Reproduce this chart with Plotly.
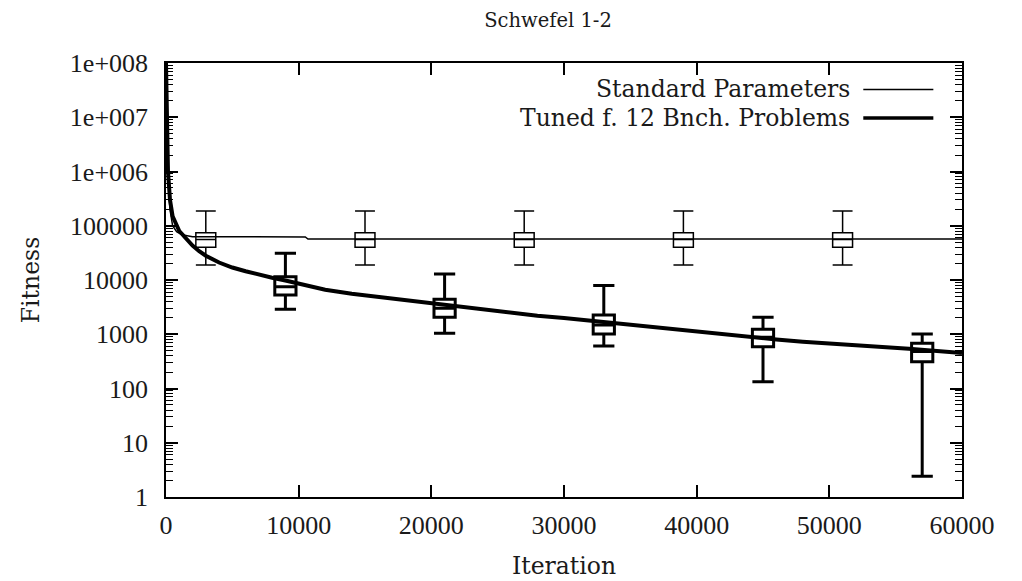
import plotly.graph_objects as go

# ---- data ----
std_iter = [0, 50, 100, 200, 300, 500, 800, 1200, 2000, 5000, 10500, 10700, 20000, 40000, 60000]
std_fit = [1e8, 2e7, 3e6, 5e5, 2e5, 1e5, 78000, 68000, 63000, 62500, 62000, 57000, 57000, 57000, 57000]

tun_iter = [0, 50, 150, 300, 500, 1000, 1500, 2000, 2500, 3000, 4000, 5000, 6000, 7000, 8000,
            9000, 10000, 11000, 12000, 14000, 16000, 18000, 20000, 22000, 24000, 26000, 28000,
            30000, 32000, 34000, 36000, 38000, 40000, 42000, 44000, 46000, 48000, 50000, 52000,
            54000, 56000, 58000, 60000]
tun_fit = [1e8, 1e7, 1e6, 3e5, 1.5e5, 8e4, 5.7e4, 4.3e4, 3.4e4, 2.8e4, 2.1e4, 1.7e4, 1.45e4,
           1.25e4, 1.1e4, 9800, 8600, 7400, 6600, 5600, 4900, 4200, 3600, 3150, 2800, 2500,
           2200, 2000, 1780, 1580, 1420, 1250, 1100, 980, 880, 800, 730, 670, 620, 580, 540,
           500, 450]

std_box_pos = [3000, 15000, 27000, 39000, 51000]
std_box_low = [19000, 19000, 19000, 19000, 19000]
std_box_q1 = [40000, 40000, 40000, 40000, 40000]
std_box_med = [56000, 56000, 56000, 56000, 56000]
std_box_q3 = [74000, 74000, 74000, 74000, 74000]
std_box_high = [187000, 187000, 187000, 187000, 187000]

tun_box_pos = [9000, 21000, 33000, 45000, 57000]
tun_box_low = [2900, 1040, 610, 133, 2.4]
tun_box_q1 = [5300, 2050, 1010, 590, 310]
tun_box_med = [7500, 3000, 1480, 880, 480]
tun_box_q3 = [11500, 4400, 2260, 1230, 680]
tun_box_high = [31000, 12900, 7900, 2050, 1010]

y_tickvals = [1, 10, 100, 1000, 10000, 100000, 1e6, 1e7, 1e8]
y_ticktext = ["1", "10", "100", "1000", "10000", "100000", "1e+006", "1e+007", "1e+008"]
x_tickvals = [0, 10000, 20000, 30000, 40000, 50000, 60000]
x_ticktext = ["0", "10000", "20000", "30000", "40000", "50000", "60000"]

legend_labels = ["Standard Parameters", "Tuned f. 12 Bnch. Problems"]

NUMFONT = "'Liberation Serif', 'Times New Roman', serif"
TXTFONT = "'DejaVu Serif', serif"
TXT = "#1a1a1a"

fig = go.Figure()
fig.add_trace(go.Scatter(x=std_iter, y=std_fit, mode="lines",
                         line=dict(color="black", width=1.5), name=legend_labels[0]))
fig.add_trace(go.Box(x=std_box_pos, q1=std_box_q1, median=std_box_med, q3=std_box_q3,
                     lowerfence=std_box_low, upperfence=std_box_high, width=1500,
                     whiskerwidth=1, fillcolor="rgba(0,0,0,0)",
                     line=dict(color="black", width=1.5), boxpoints=False,
                     name=legend_labels[0]))
fig.add_trace(go.Scatter(x=tun_iter, y=tun_fit, mode="lines",
                         line=dict(color="black", width=4), name=legend_labels[1]))
fig.add_trace(go.Box(x=tun_box_pos, q1=tun_box_q1, median=tun_box_med, q3=tun_box_q3,
                     lowerfence=tun_box_low, upperfence=tun_box_high, width=1600,
                     whiskerwidth=1, fillcolor="rgba(0,0,0,0)",
                     line=dict(color="black", width=3), boxpoints=False,
                     name=legend_labels[1]))

# gnuplot-style legend: text right-aligned, line sample to the right
legend_y = [0.939, 0.873]
legend_w = [1.5, 3.5]
for lab, yy, w in zip(legend_labels, legend_y, legend_w):
    fig.add_annotation(x=0.862, y=yy, xref="paper", yref="paper", text=lab, showarrow=False,
                       xanchor="right", yanchor="middle",
                       font=dict(family=TXTFONT, size=23.5, color=TXT))
    fig.add_shape(type="line", xref="paper", yref="paper", x0=0.876, x1=0.964, y0=yy, y1=yy,
                  line=dict(color="black", width=w))

fig.update_layout(
    width=1022, height=581,
    margin=dict(l=166, r=60, t=63, b=84, autoexpand=False),
    paper_bgcolor="white", plot_bgcolor="white",
    showlegend=False,
    boxmode="overlay",
    font=dict(family=NUMFONT, size=26, color=TXT),
    title=dict(text="Schwefel 1-2", x=548 / 1022, xanchor="center", y=1 - 20 / 581,
               yanchor="middle", font=dict(family=TXTFONT, size=19.5, color=TXT)),
)
fig.update_xaxes(
    range=[0, 60000], tickvals=x_tickvals, ticktext=x_ticktext, ticks="inside", ticklen=12,
    tickwidth=1.5, tickcolor="black", showline=True, linecolor="black", linewidth=1.5,
    mirror="allticks", showgrid=False, zeroline=False, ticklabelstandoff=4, automargin=False,
    tickfont=dict(family=NUMFONT, size=26, color=TXT),
    title=dict(text="Iteration", standoff=19, font=dict(family=TXTFONT, size=23.5, color=TXT)),
)
fig.update_yaxes(
    type="log", range=[0, 8], tickvals=y_tickvals, ticktext=y_ticktext, ticks="inside",
    ticklen=12, tickwidth=1.5, tickcolor="black", showline=True, linecolor="black",
    linewidth=1.5, mirror="allticks", showgrid=False, zeroline=False, ticklabelstandoff=11,
    automargin=False, tickfont=dict(family=NUMFONT, size=26, color=TXT),
    minor=dict(ticks="inside", ticklen=7, tickwidth=1.2, tickcolor="black", dtick="D1", showgrid=False),
    title=dict(text="Fitness", standoff=24, font=dict(family=TXTFONT, size=23.5, color=TXT)),
)

fig.write_html("out.html", config={"displayModeBar": False},
               post_script="document.body.style.margin='0';")
